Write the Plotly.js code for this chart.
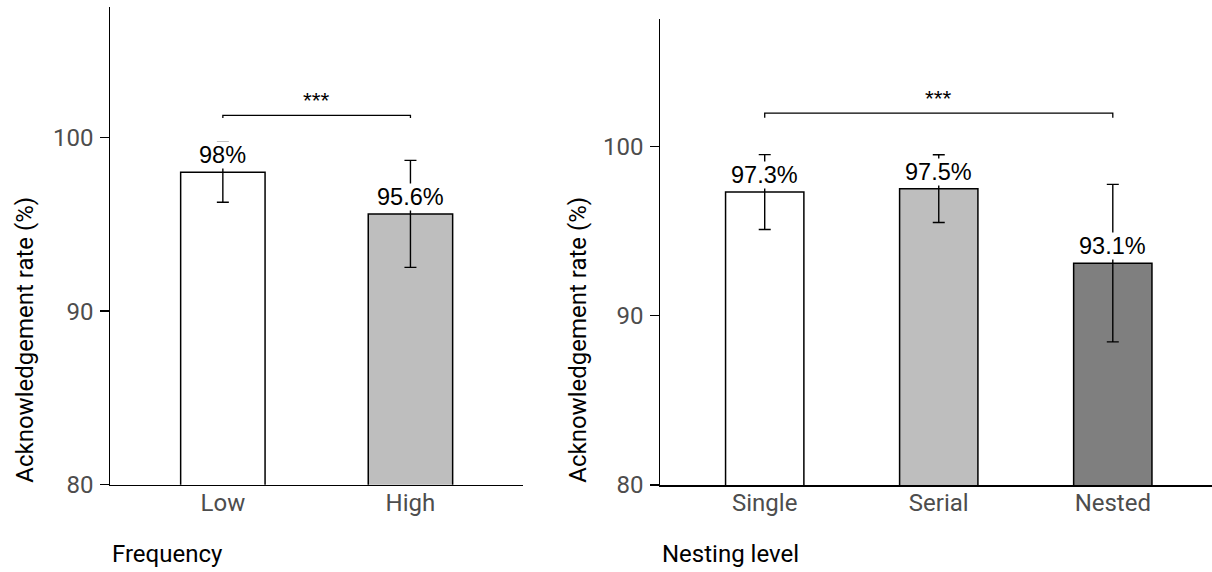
<!DOCTYPE html>
<html>
<head>
<meta charset="utf-8">
<script src="https://cdn.plot.ly/plotly-3.0.1.min.js"></script>
<style>html,body{margin:0;padding:0;background:#fff;}#chart{width:1212px;height:572px;}</style>
</head>
<body>
<div id="chart"></div>
<script>
// ---- Data ----
const freqCategories = ['Low', 'High'];
const freqRates = [98.0, 95.6];
const freqErrors = [1.73, 3.08];
const freqLabels = ['98%', '95.6%'];
const freqColors = ['#FFFFFF', '#BEBEBE'];

const nestCategories = ['Single', 'Serial', 'Nested'];
const nestRates = [97.3, 97.5, 93.1];
const nestErrors = [2.21, 2.0, 4.65];
const nestLabels = ['97.3%', '97.5%', '93.1%'];
const nestColors = ['#FFFFFF', '#BEBEBE', '#7F7F7F'];

const yTickVals = [80, 90, 100];
const yTitle = 'Acknowledgement rate (%)';
const freqTitle = 'Frequency';
const nestTitle = 'Nesting level';

// significance brackets
const freqSig = {from: 'Low', to: 'High', y: 101.27, tip: 0.14, label: '***'};
const nestSig = {from: 'Single', to: 'Nested', y: 101.96, tip: 0.27, label: '***'};

// ---- Styling ----
const W = 1212, H = 572;
const tickFont = {family: 'Roboto, sans-serif', size: 24, color: '#4D4D4D'};
const titleFont = {family: 'Roboto, sans-serif', size: 24, color: '#000000'};
const labelFont = {family: '"Liberation Sans", Arial, sans-serif', size: 23.5, color: '#000000'};
const starFont = {family: '"Liberation Sans", Arial, sans-serif', size: 22.5, color: '#000000'};

function barTrace(cats, vals, errs, colors, xa, ya) {
  return {
    type: 'bar', x: cats, y: vals, xaxis: xa, yaxis: ya,
    width: 0.45,
    marker: {color: colors, line: {color: '#000000', width: 1.5}},
    error_y: {type: 'data', array: errs, visible: true, color: '#000000', thickness: 1.4, width: 6},
    hoverinfo: 'skip', showlegend: false
  };
}
function sigTrace(sig, xa, ya) {
  return {
    type: 'scatter', mode: 'lines', xaxis: xa, yaxis: ya,
    x: [sig.from, sig.from, sig.to, sig.to],
    y: [sig.y - sig.tip, sig.y, sig.y, sig.y - sig.tip],
    line: {color: '#000000', width: 1.3},
    hoverinfo: 'skip', showlegend: false, cliponaxis: false
  };
}

const traces = [
  barTrace(freqCategories, freqRates, freqErrors, freqColors, 'x', 'y'),
  sigTrace(freqSig, 'x', 'y'),
  barTrace(nestCategories, nestRates, nestErrors, nestColors, 'x2', 'y2'),
  sigTrace(nestSig, 'x2', 'y2')
];

const annotations = [];
function addLabels(cats, vals, labels, xr, yr) {
  cats.forEach((c, i) => {
    annotations.push({
      x: c, y: vals[i], xref: xr, yref: yr, text: labels[i], showarrow: false,
      xanchor: 'center', yanchor: 'bottom', yshift: 3, font: labelFont,
      bgcolor: '#FFFFFF', borderpad: 0
    });
  });
}
addLabels(freqCategories, freqRates, freqLabels, 'x', 'y');
addLabels(nestCategories, nestRates, nestLabels, 'x2', 'y2');

function addSigLabel(sig, xr, yr, cats) {
  const i0 = cats.indexOf(sig.from), i1 = cats.indexOf(sig.to);
  annotations.push({
    x: (i0 + i1) / 2, y: sig.y, xref: xr, yref: yr, text: sig.label, showarrow: false,
    xanchor: 'center', yanchor: 'bottom', yshift: 0, font: starFont
  });
}
addSigLabel(freqSig, 'x', 'y', freqCategories);
addSigLabel(nestSig, 'x2', 'y2', nestCategories);

const leftDom = [110.3 / W, 523 / W];
const rightDom = [660.3 / W, 1];
const leftY = [1 - 484.7 / H, 1 - 7.3 / H];
const rightY = [1 - 485 / H, 1 - 19.3 / H];

// axis titles (left/bottom aligned, as in the reference)
annotations.push({
  text: yTitle, textangle: -90, showarrow: false, font: titleFont,
  xref: 'paper', x: 25 / W, xanchor: 'center', yref: 'y', y: 80, yanchor: 'bottom'
});
annotations.push({
  text: yTitle, textangle: -90, showarrow: false, font: titleFont,
  xref: 'paper', x: 577.7 / W, xanchor: 'center', yref: 'y2', y: 80, yanchor: 'bottom'
});
annotations.push({
  text: freqTitle, showarrow: false, font: titleFont,
  xref: 'paper', x: leftDom[0], xanchor: 'left', yref: 'paper', y: 1 - 554.3 / H, yanchor: 'middle'
});
annotations.push({
  text: nestTitle, showarrow: false, font: titleFont,
  xref: 'paper', x: rightDom[0], xanchor: 'left', yref: 'paper', y: 1 - 553.5 / H, yanchor: 'middle'
});

function xAxis(dom, range, anchor) {
  return {
    domain: dom, range: range, anchor: anchor, type: 'category',
    showline: true, linecolor: '#000000', linewidth: 1.5, mirror: false,
    ticks: '', showgrid: false, zeroline: false, tickfont: tickFont,
    ticklabelstandoff: -4, fixedrange: true
  };
}
function yAxis(dom, anchor) {
  return {
    domain: dom, range: [80, 107.5], anchor: anchor,
    showline: true, linecolor: '#000000', linewidth: 1.5,
    ticks: 'outside', ticklen: 8.5, tickwidth: 1.5, tickcolor: '#000000',
    tickvals: yTickVals, ticktext: yTickVals.map(String),
    showgrid: false, zeroline: false, tickfont: tickFont,
    ticklabelstandoff: 2, fixedrange: true
  };
}

const layout = {
  width: W, height: H,
  margin: {l: 0, r: 0, t: 0, b: 0, pad: 0},
  paper_bgcolor: '#FFFFFF', plot_bgcolor: '#FFFFFF',
  showlegend: false,
  xaxis: xAxis(leftDom, [-0.6, 1.6], 'y'),
  yaxis: yAxis(leftY, 'x'),
  xaxis2: xAxis(rightDom, [-0.6, 2.57], 'y2'),
  yaxis2: yAxis(rightY, 'x2'),
  annotations: annotations
};

Plotly.newPlot('chart', traces, layout, {displayModeBar: false, staticPlot: true});
</script>
</body>
</html>
